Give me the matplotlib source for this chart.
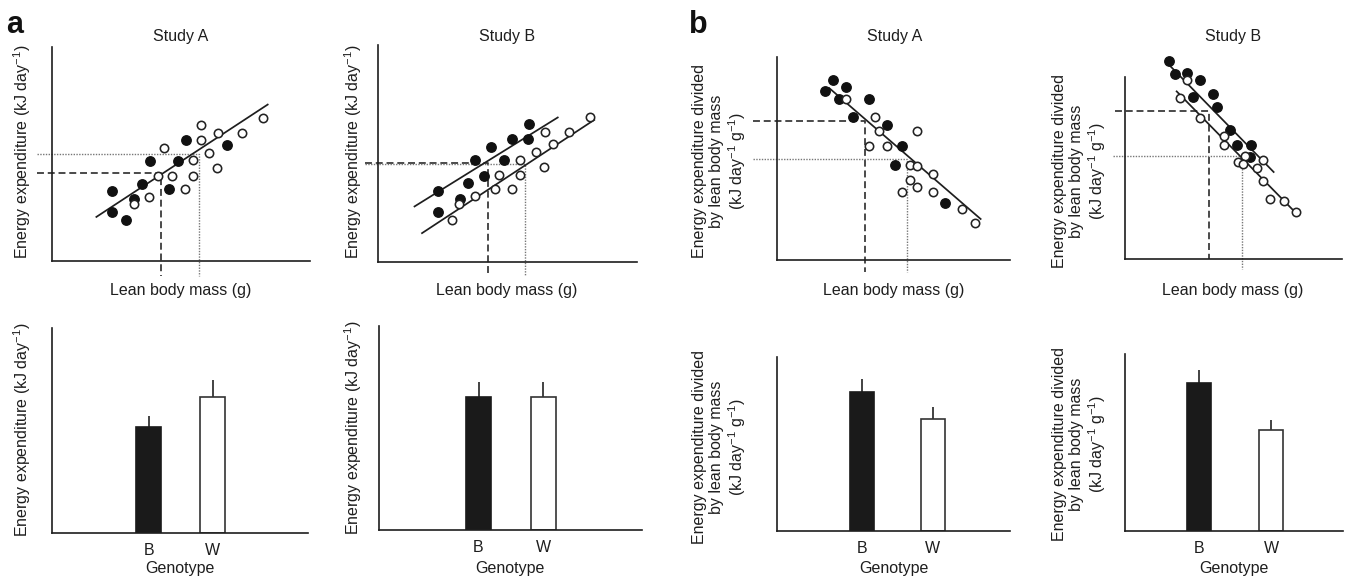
import matplotlib
matplotlib.use("Agg")
import matplotlib.pyplot as plt

plt.rcParams['font.family'] = ['Liberation Sans', 'DejaVu Sans']
plt.rcParams['mathtext.fontset'] = 'custom'
plt.rcParams['mathtext.rm'] = 'Liberation Sans'
plt.rcParams['mathtext.it'] = 'Liberation Sans:italic'
plt.rcParams['mathtext.bf'] = 'Liberation Sans:bold'

# ---------------- data (arbitrary units) ----------------
# Panel a, Study A (scatter)
aA_black_x = [23.4, 23.4, 28.6, 31.8, 34.8, 37.9, 45.4, 48.9, 51.9, 68.0]
aA_black_y = [32.6, 22.7, 19.0, 28.8, 36.1, 46.9, 33.5, 46.9, 56.4, 54.0]
aA_white_x = [31.6, 37.6, 43.5, 40.9, 46.6, 51.6, 54.7, 54.7, 57.8, 57.8, 60.8, 63.8, 64.4, 73.7, 81.9]
aA_white_y = [26.5, 29.9, 53.0, 39.6, 39.7, 33.6, 47.0, 39.7, 63.4, 56.4, 50.3, 43.3, 60.0, 60.0, 66.8]
aA_fit_x = [17.2, 83.6]
aA_fit_y = [20.6, 73.1]
aA_ref_black = (42.2, 41.3)
aA_ref_white = (56.9, 49.8)

# Panel a, Study B (scatter)
aB_black_x = [23.0, 23.0, 31.6, 34.6, 37.5, 40.8, 43.6, 48.5, 51.9, 57.8, 58.2]
aB_black_y = [32.8, 23.2, 29.1, 36.3, 47.1, 39.7, 53.1, 47.1, 56.6, 56.6, 63.7]
aB_white_x = [28.5, 31.4, 37.5, 45.3, 46.6, 51.7, 54.8, 54.8, 60.9, 63.9, 64.4, 67.7, 73.7, 81.7]
aB_white_y = [19.5, 26.8, 30.2, 33.7, 40.0, 33.7, 47.1, 40.0, 50.8, 43.6, 60.1, 54.3, 60.0, 67.0]
aB_fitB_x = [14.1, 69.4]
aB_fitB_y = [25.6, 66.6]
aB_fitW_x = [17.0, 83.5]
aB_fitW_y = [13.3, 65.5]
aB_ref_black = (42.3, 45.6)
aB_ref_white = (56.8, 45.2)

# Panel b, Study A (scatter)
bA_black_x = [20.7, 24.0, 26.4, 29.6, 39.3, 32.7, 47.4, 53.6, 50.7, 72.1]
bA_black_y = [83.1, 88.8, 79.3, 85.0, 79.4, 70.2, 66.6, 56.3, 46.9, 28.0]
bA_white_x = [29.6, 42.1, 43.9, 39.3, 47.3, 60.3, 56.9, 60.3, 66.9, 56.9, 53.6, 60.3, 66.9, 79.6, 84.9]
bA_white_y = [79.3, 70.2, 63.7, 56.3, 56.3, 63.7, 46.9, 46.1, 42.4, 39.5, 33.7, 36.2, 33.7, 25.3, 18.4]
bA_fit_x = [22.4, 87.4]
bA_fit_y = [84.7, 20.2]
bA_ref_black = (37.9, 68.4)
bA_ref_white = (55.7, 49.7)

# Panel b, Study B (scatter)
bB_black_x = [20.2, 22.9, 28.6, 34.5, 31.4, 40.6, 42.2, 48.5, 51.7, 58.2, 57.7]
bB_black_y = [108.8, 101.5, 102.4, 98.5, 88.8, 90.7, 83.3, 70.9, 62.8, 62.8, 55.9]
bB_white_x = [28.6, 25.4, 34.6, 45.7, 45.5, 55.1, 52.3, 54.6, 63.8, 60.8, 63.7, 66.6, 73.5, 78.8]
bB_white_y = [98.2, 88.5, 77.5, 67.4, 62.6, 56.8, 53.3, 52.0, 54.6, 50.0, 42.7, 33.2, 32.1, 26.0]
bB_fitB_x = [20.2, 68.5]
bB_fitB_y = [106.8, 47.8]
bB_fitW_x = [23.8, 78.5]
bB_fitW_y = [92.1, 25.6]
bB_ref_black = (38.9, 81.5)
bB_ref_white = (53.8, 56.4)

# Bar panels
genotypes = ['B', 'W']
aA_bar = [51.7, 66.3]
aA_err = [5.4, 8.3]
aB_bar = [65.2, 65.2]
aB_err = [7.3, 7.3]
bA_bar = [79.9, 64.4]
bA_err = [7.5, 6.9]
bB_bar = [83.6, 57.1]
bB_err = [7.4, 5.6]

# ---------------- figure ----------------
W, H = 1347, 579
fig = plt.figure(figsize=(W / 100, H / 100), dpi=100)
FS = 11.5
DARK = '#1e1e1e'


def rect(l, t, r, b):
    return [l / W, 1 - b / H, (r - l) / W, (b - t) / H]


def px(x, y):
    return x / W, 1 - y / H


def style_axes(ax):
    for s in ('top', 'right'):
        ax.spines[s].set_visible(False)
    for s in ('left', 'bottom'):
        ax.spines[s].set_linewidth(1.2)
        ax.spines[s].set_color(DARK)
    ax.set_xticks([])
    ax.set_yticks([])
    ax.patch.set_alpha(0)


def scatter_panel(r, bx, by, wx, wy, fits, ref_b, ref_w, ext_b=(-6, -7), ext_w=(-6, -7)):
    ax = fig.add_axes(rect(*r))
    style_axes(ax)
    ax.set_xlim(0, 100)
    ax.set_ylim(0, 100)
    # reference lines
    xb, yb = ref_b
    ax.plot([ext_b[0], xb, xb], [yb, yb, ext_b[1]], color='#333333', lw=1.25,
            linestyle=(0, (4, 2.2)), clip_on=False, zorder=1)
    xw, yw = ref_w
    ax.plot([ext_w[0], xw, xw], [yw, yw, ext_w[1]], color='#777777', lw=1.0,
            linestyle=(0, (1, 1)), clip_on=False, zorder=1)
    for fx, fy in fits:
        ax.plot(fx, fy, color=DARK, lw=1.25, clip_on=False, zorder=2)
    ax.plot(bx, by, 'o', ms=6.8, mfc='#111111', mec='#111111', ls='none', clip_on=False, zorder=3)
    ax.plot(wx, wy, 'o', ms=6.0, mfc='white', mec='#222222', mew=1.15, ls='none', clip_on=False, zorder=3)
    return ax


def bar_panel(r, vals, errs, xlim, width):
    ax = fig.add_axes(rect(*r))
    style_axes(ax)
    pos = [0, 1]
    ax.bar(pos, vals, width=width, color=['#1a1a1a', 'white'],
           edgecolor=['#1a1a1a', '#333333'], linewidth=1.2, zorder=2)
    ax.errorbar(pos, vals, yerr=[[0, 0], errs], fmt='none', ecolor='#222222',
                elinewidth=1.2, capsize=0, zorder=1)
    ax.set_xlim(*xlim)
    ax.set_ylim(0, 100)
    ax.set_xticks(pos)
    ax.set_xticklabels(genotypes, fontsize=FS)
    ax.tick_params(axis='x', length=0, pad=7, colors=DARK, labelcolor=DARK)
    return ax


# top scatter panels
scatter_panel((52, 47, 310, 261), aA_black_x, aA_black_y, aA_white_x, aA_white_y,
              [(aA_fit_x, aA_fit_y)], aA_ref_black, aA_ref_white)
scatter_panel((378, 45, 637, 262), aB_black_x, aB_black_y, aB_white_x, aB_white_y,
              [(aB_fitB_x, aB_fitB_y), (aB_fitW_x, aB_fitW_y)], aB_ref_black, aB_ref_white,
              ext_b=(-5, -6), ext_w=(-5, -6))
scatter_panel((777, 57, 1010, 260), bA_black_x, bA_black_y, bA_white_x, bA_white_y,
              [(bA_fit_x, bA_fit_y)], bA_ref_black, bA_ref_white,
              ext_b=(-10.5, -6), ext_w=(-10.5, -6))
scatter_panel((1125, 77, 1342, 259), bB_black_x, bB_black_y, bB_white_x, bB_white_y,
              [(bB_fitB_x, bB_fitB_y), (bB_fitW_x, bB_fitW_y)], bB_ref_black, bB_ref_white,
              ext_b=(-4.6, 0), ext_w=(-5.7, -5.5))

# bottom bar panels
bar_panel((52, 328, 308, 533), aA_bar, aA_err, (-1.51, 2.49), 0.39)
bar_panel((379, 326, 642, 530), aB_bar, aB_err, (-1.54, 2.53), 0.39)
bar_panel((777, 357, 1010, 531), bA_bar, bA_err, (-1.21, 2.10), 0.34)
bar_panel((1125, 354, 1343, 531), bB_bar, bB_err, (-1.02, 1.99), 0.33)

# ---------------- texts ----------------
def ftext(x, y, s, **kw):
    kw.setdefault('fontsize', FS)
    kw.setdefault('color', DARK)
    fig.text(*px(x, y), s, ha='center', va='center', **kw)

ylab_a = 'Energy expenditure (kJ day$^{-1}$)'
ylab_b = 'Energy expenditure divided\nby lean body mass\n(kJ day$^{-1}$ g$^{-1}$)'

# titles
for x, t in [(181, 'Study A'), (507, 'Study B'), (895, 'Study A'), (1233, 'Study B')]:
    ftext(x, 37, t)
# x labels top
for x in (181, 507, 894, 1233):
    ftext(x, 290, 'Lean body mass (g)')
# Genotype labels
for x in (180, 510, 894, 1234):
    ftext(x, 569, 'Genotype')
# y labels
ftext(22, 152, ylab_a, rotation=90)
ftext(353, 152, ylab_a, rotation=90)
ftext(22, 430, ylab_a, rotation=90)
ftext(353, 428, ylab_a, rotation=90)
ftext(720, 161, ylab_b, rotation=90, multialignment='center', linespacing=1.12)
ftext(1080, 171, ylab_b, rotation=90, multialignment='center', linespacing=1.12)
ftext(720, 447, ylab_b, rotation=90, multialignment='center', linespacing=1.12)
ftext(1080, 444, ylab_b, rotation=90, multialignment='center', linespacing=1.12)

# panel letters
fig.text(*px(6, 33), 'a', fontsize=22, fontweight='bold', ha='left', va='baseline', color='#111111')
fig.text(*px(689, 33), 'b', fontsize=22, fontweight='bold', ha='left', va='baseline', color='#111111')

fig.savefig('out.png', dpi=100)
